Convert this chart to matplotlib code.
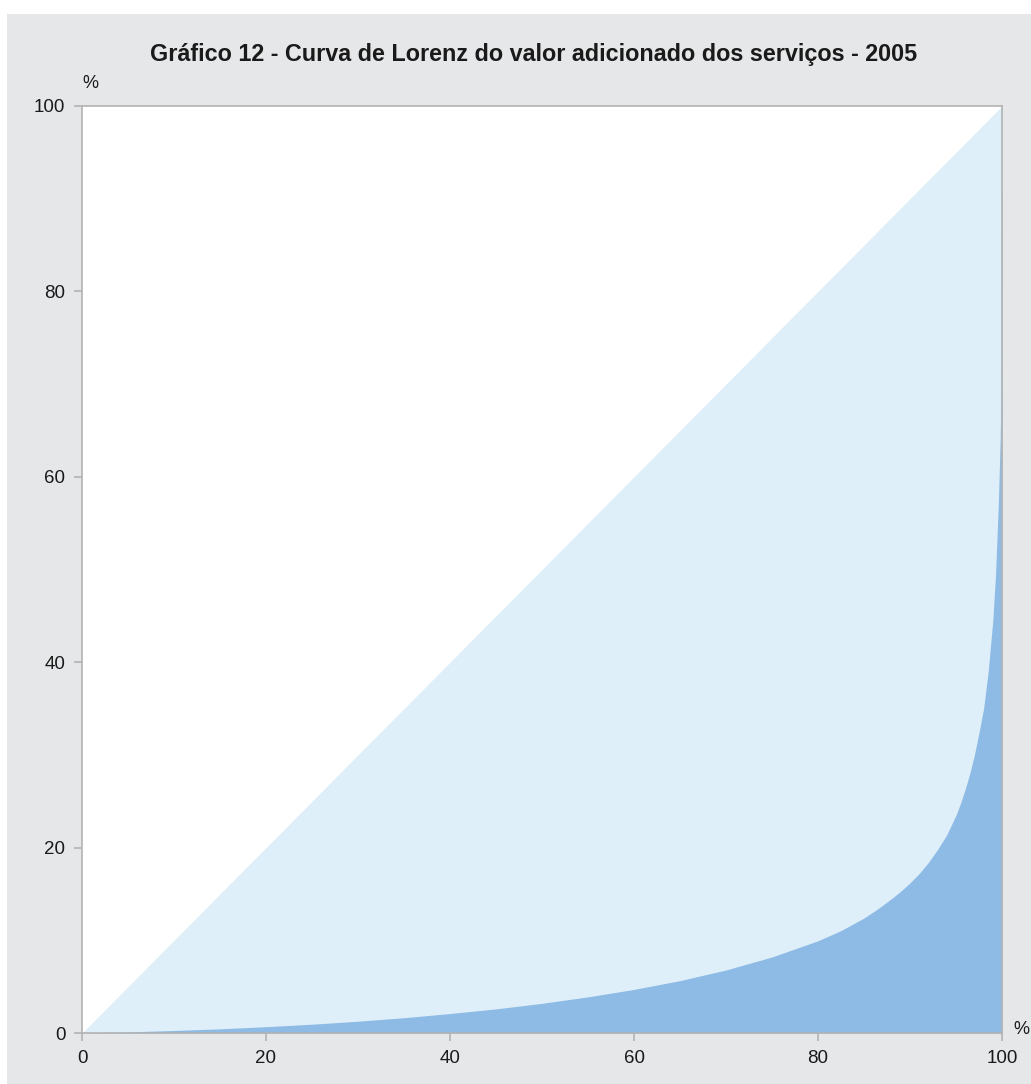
import matplotlib
matplotlib.use("Agg")
import matplotlib.pyplot as plt
from matplotlib.patches import Rectangle

# Data: cumulative % of municipalities (x) vs cumulative % of services value added (y)
pop_share = [0, 5, 10, 15, 20, 25, 30, 35, 40, 45, 50, 55, 60, 65, 70, 75, 80, 82.5,
             85, 86.5, 88, 89, 90, 91, 92, 93, 94, 95, 95.5, 96, 96.5, 97, 97.5, 98,
             98.5, 99, 99.3, 99.6, 99.8, 99.9, 100]
value_share = [0, 0.12, 0.27, 0.45, 0.68, 0.95, 1.27, 1.65, 2.1, 2.6, 3.2, 3.9, 4.7, 5.65,
               6.8, 8.2, 9.95, 11.05, 12.4, 13.4, 14.5, 15.3, 16.2, 17.2, 18.4, 19.8,
               21.4, 23.5, 24.8, 26.3, 28.0, 30.0, 32.4, 35.0, 39.0, 44.5, 49.5, 57, 64,
               70, 100]
equality_x = [0, 100]
equality_y = [0, 100]
ticks = [0, 20, 40, 60, 80, 100]
title = "Gráfico 12 - Curva de Lorenz do valor adicionado dos serviços - 2005"

W, H = 1031, 1084
fig = plt.figure(figsize=(W / 100, H / 100), dpi=100)
fig.patch.set_facecolor("white")
plt.rcParams["font.family"] = ["Liberation Sans", "DejaVu Sans"]

bg = Rectangle((7 / W, 0), 1 - 7 / W, 1 - 14 / H, transform=fig.transFigure,
               facecolor="#e6e7e8", edgecolor="none", zorder=-10)
fig.add_artist(bg)

left, right, top, bottom = 82, 1002, 106, 1033
ax = fig.add_axes([left / W, 1 - bottom / H, (right - left) / W, (bottom - top) / H])
ax.set_zorder(1)
ax.set_facecolor("white")

ax.fill_between(equality_x, equality_y, 0, color="#dfeff9", linewidth=0, zorder=1)
ax.fill_between(pop_share, value_share, 0, color="#8dbbe5", linewidth=0, zorder=2)

ax.set_xlim(0, 100)
ax.set_ylim(0, 100)
ax.set_xticks(ticks)
ax.set_yticks(ticks)
ax.set_xticklabels([str(t) for t in ticks])
ax.set_yticklabels([str(t) for t in ticks])
for s in ax.spines.values():
    s.set_color("#b3b3b3")
    s.set_linewidth(1.2)
ax.tick_params(axis="both", direction="out", length=6, width=1.2, color="#b3b3b3",
               labelsize=13.5, labelcolor="#1a1a1a")
ax.tick_params(axis="x", pad=6)
ax.tick_params(axis="y", pad=6)

fig.text(534 / W, 1 - 55 / H, title, ha="center", va="center",
         fontsize=16.8, fontweight="bold", color="#1a1a1a")
fig.text(90 / W, 1 - 83 / H, "%", ha="center", va="center", fontsize=13, color="#1a1a1a")
fig.text(1021 / W, 1 - 1030 / H, "%", ha="center", va="center", fontsize=13, color="#1a1a1a")

fig.savefig("out.png", dpi=100, facecolor=fig.get_facecolor())
